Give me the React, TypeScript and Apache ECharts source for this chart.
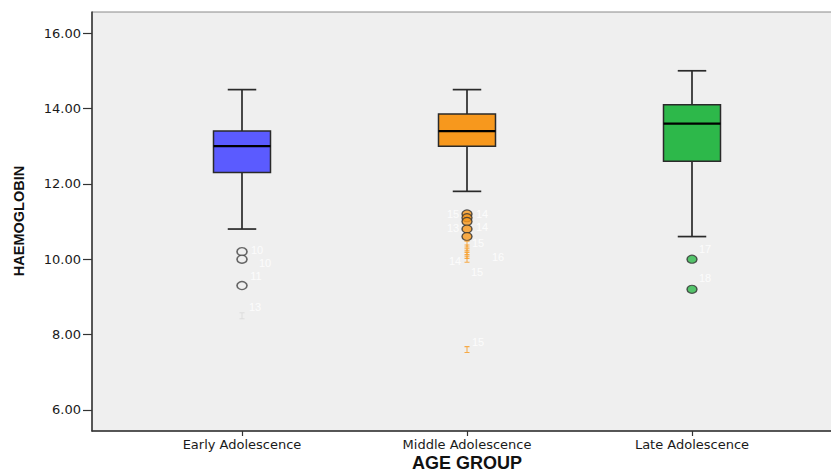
import React, { useEffect, useRef } from "react";
import * as echarts from "echarts";

const categories = ["Early Adolescence", "Middle Adolescence", "Late Adolescence"];
const whiskerLow = [10.8, 11.8, 10.6];
const q1 = [12.3, 13.0, 12.6];
const median = [13.0, 13.4, 13.6];
const q3 = [13.4, 13.85, 14.1];
const whiskerHigh = [14.5, 14.5, 15.0];
const yTicks = [6, 8, 10, 12, 14, 16];

// outliers (circles) and extremes (asterisks) per group, with SPSS case labels
const earlyOutliers = [10.2, 10.0, 9.3];
const earlyOutlierCases = ["10", "10", "11"];
const earlyExtremes = [8.5];
const earlyExtremeCases = ["13"];
const middleOutliers = [11.2, 11.1, 11.0, 10.8, 10.6];
const middleOutlierCases = ["15", "14", "", "13", "14"];
const middleExtremes = [10.4, 10.3, 10.2, 10.1, 10.0, 7.6];
const middleExtremeCases = ["15", "16", "", "14", "15", "15"];
const lateOutliers = [10.0, 9.2];
const lateOutlierCases = ["17", "18"];

// styles
const boxColors = ["#5b5bff", "#f7981d", "#2db84a"];
const earlyOutlierOffsets = [[15, -2], [23, 4], [14, -10]];
const earlyExtremeOffsets = [[13, -9]];
const middleOutlierOffsets = [[-14, 0], [15, -4], [0, 0], [-14, -1], [15, -10]];
const middleExtremeOffsets = [[11, -1], [31, 9], [0, 0], [-12, 6], [10, 13], [11, -8]];
const lateOutlierOffsets = [[13, -10], [13, -11]];

const asterisk = "path://M0,0H6V1.2H3.6V6.8H6V8H0V6.8H2.4V1.2H0Z";

function pts(group: number, vals: number[], cases: string[], offsets: number[][]) {
  return vals.map((v, i) => ({
    value: [group, v],
    label: {
      show: cases[i] !== "",
      formatter: cases[i],
      offset: offsets[i],
    },
  }));
}

const labelStyle = {
  position: "inside" as const,
  color: "#ffffff",
  fontSize: 11,
  fontFamily: "Liberation Sans, Arial, sans-serif",
};

export default function App() {
  const ref = useRef<HTMLDivElement>(null);
  useEffect(() => {
    if (!ref.current) return;
    const chart = echarts.init(ref.current, null, { renderer: "svg" });
    const boxData = categories.map((c, i) => [
      i + 1,
      whiskerLow[i],
      q1[i],
      median[i],
      q3[i],
      whiskerHigh[i],
      i,
    ]);
    chart.setOption({
      animation: false,
      backgroundColor: "#ffffff",
      grid: {
        left: 92,
        top: 12,
        width: 750,
        height: 419,
        outerBoundsMode: "none",
        containLabel: false,
        show: true,
        backgroundColor: "#efefef",
        borderColor: "#8a8a8a",
        borderWidth: 1,
      },
      xAxis: {
        type: "value",
        min: 1 / 3,
        max: 11 / 3,
        splitLine: { show: false },
        axisLine: { show: true, onZero: false, lineStyle: { color: "#333", width: 1.5 } },
        axisTick: {
          show: true,
          length: 5,
          customValues: [1, 2, 3],
          lineStyle: { color: "#333", width: 1.2 },
        },
        axisLabel: {
          customValues: [1, 2, 3],
          formatter: (v: number) => categories[Math.round(v) - 1] ?? "",
          margin: 7,
          color: "#1a1a1a",
          fontSize: 13,
          fontFamily: "DejaVu Sans, sans-serif",
        },
      },
      yAxis: {
        type: "value",
        min: 5.44,
        max: 16.56,
        splitLine: { show: false },
        axisLine: { show: true, onZero: false, lineStyle: { color: "#333", width: 1.5 } },
        axisTick: {
          show: true,
          length: 9,
          customValues: yTicks,
          lineStyle: { color: "#333", width: 1.2 },
        },
        axisLabel: {
          customValues: yTicks,
          formatter: (v: number) => v.toFixed(2),
          margin: 11,
          color: "#1a1a1a",
          fontSize: 13,
          fontFamily: "DejaVu Sans, sans-serif",
        },
      },
      graphic: [
        {
          type: "text",
          x: 19,
          y: 221,
          rotation: Math.PI / 2,
          style: {
            text: "HAEMOGLOBIN",
            fontSize: 14.5,
            fontWeight: "bold",
            fontFamily: "Liberation Sans, Arial, sans-serif",
            fill: "#111",
            align: "center",
            verticalAlign: "middle",
          },
        },
        {
          type: "text",
          x: 467,
          y: 463,
          style: {
            text: "AGE GROUP",
            fontSize: 18,
            fontWeight: "bold",
            fontFamily: "Liberation Sans, Arial, sans-serif",
            fill: "#111",
            align: "center",
            verticalAlign: "middle",
          },
        },
      ],
      series: [
        {
          type: "custom",
          data: boxData,
          encode: { x: 0, y: [1, 2, 3, 4, 5] },
          renderItem: (params: any, api: any) => {
            const x = api.value(0);
            const lo = api.coord([x, api.value(1)]);
            const b1 = api.coord([x, api.value(2)]);
            const md = api.coord([x, api.value(3)]);
            const b3 = api.coord([x, api.value(4)]);
            const hi = api.coord([x, api.value(5)]);
            const color = boxColors[api.value(6)];
            const halfW = api.size([0.2533, 0])[0] / 2;
            const capHalf = halfW / 2;
            const cx = lo[0];
            const ls = { stroke: "#2a2a2a", lineWidth: 1.7 };
            return {
              type: "group",
              children: [
                { type: "line", shape: { x1: cx, y1: lo[1], x2: cx, y2: b1[1] }, style: ls },
                { type: "line", shape: { x1: cx, y1: b3[1], x2: cx, y2: hi[1] }, style: ls },
                { type: "line", shape: { x1: cx - capHalf, y1: lo[1], x2: cx + capHalf, y2: lo[1] }, style: ls },
                { type: "line", shape: { x1: cx - capHalf, y1: hi[1], x2: cx + capHalf, y2: hi[1] }, style: ls },
                {
                  type: "rect",
                  shape: { x: cx - halfW, y: b3[1], width: halfW * 2, height: b1[1] - b3[1] },
                  style: { fill: color, stroke: "#2a2a2a", lineWidth: 1.5 },
                },
                {
                  type: "line",
                  shape: { x1: cx - halfW, y1: md[1], x2: cx + halfW, y2: md[1] },
                  style: { stroke: "#000", lineWidth: 2.2 },
                },
              ],
            };
          },
        },
        {
          type: "scatter",
          symbol: "circle",
          symbolSize: [10, 8],
          itemStyle: { color: "#efefef", borderColor: "#444", borderWidth: 1.5 },
          label: labelStyle,
          data: pts(1, earlyOutliers, earlyOutlierCases, earlyOutlierOffsets),
        },
        {
          type: "scatter",
          symbol: asterisk,
          symbolSize: [5, 7],
          itemStyle: { color: "#d8d8d8" },
          label: labelStyle,
          data: pts(1, earlyExtremes, earlyExtremeCases, earlyExtremeOffsets),
        },
        {
          type: "scatter",
          symbol: "circle",
          symbolSize: [10, 8],
          itemStyle: { color: boxColors[1], borderColor: "#333", borderWidth: 1.3 },
          label: labelStyle,
          data: pts(2, middleOutliers, middleOutlierCases, middleOutlierOffsets),
        },
        {
          type: "scatter",
          symbol: asterisk,
          symbolSize: [5, 7],
          itemStyle: { color: boxColors[1] },
          label: labelStyle,
          data: pts(2, middleExtremes, middleExtremeCases, middleExtremeOffsets),
        },
        {
          type: "scatter",
          symbol: "circle",
          symbolSize: [10, 8],
          itemStyle: { color: boxColors[2], borderColor: "#333", borderWidth: 1.3 },
          label: labelStyle,
          data: pts(3, lateOutliers, lateOutlierCases, lateOutlierOffsets),
        },
      ],
    });
    return () => chart.dispose();
  }, []);
  return (
    <div
      ref={ref}
      style={{ position: "fixed", left: 0, top: 0, width: 831, height: 472 }}
    />
  );
}
